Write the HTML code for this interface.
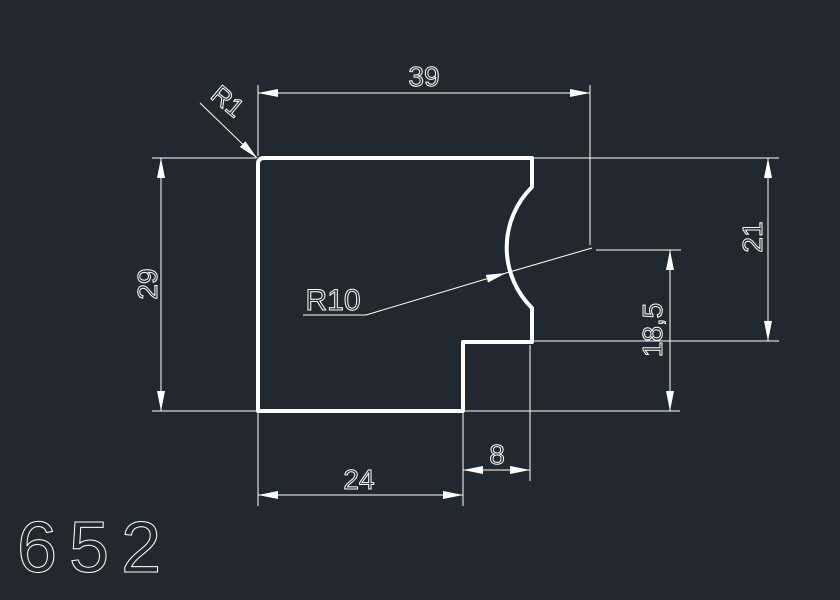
<!DOCTYPE html>
<html><head><meta charset="utf-8"><style>
html,body{margin:0;padding:0;background:#212830;}
svg{display:block}
text{font-family:"Liberation Sans",sans-serif;fill:none;stroke:#fff;stroke-width:1;font-weight:normal}
</style></head><body>
<svg width="840" height="600" viewBox="0 0 840 600" xmlns="http://www.w3.org/2000/svg">
<rect width="840" height="600" fill="#212830"/>
<defs>
<marker id="a" viewBox="0 0 20 8" refX="20" refY="4" markerWidth="20" markerHeight="8" markerUnits="userSpaceOnUse" orient="auto-start-reverse"><path d="M0,0 L20,4 L0,8 Z" fill="#fff"/></marker>
</defs>
<g stroke="#fff" stroke-width="1" fill="none">
<line x1="258" y1="85" x2="258" y2="156"/>
<line x1="590" y1="85" x2="590" y2="245"/>
<line x1="152" y1="158" x2="256" y2="158"/>
<line x1="534" y1="158" x2="779" y2="158"/>
<line x1="152" y1="411" x2="680" y2="411"/>
<line x1="534" y1="341" x2="779" y2="341"/>
<line x1="596" y1="250" x2="681" y2="250"/>
<line x1="258" y1="413" x2="258" y2="506"/>
<line x1="463" y1="413" x2="463" y2="506"/>
<line x1="530" y1="345" x2="530" y2="481"/>
<line x1="258" y1="93" x2="590" y2="93" marker-start="url(#a)" marker-end="url(#a)"/>
<line x1="161" y1="158" x2="161" y2="411" marker-start="url(#a)" marker-end="url(#a)"/>
<line x1="768" y1="158" x2="768" y2="341" marker-start="url(#a)" marker-end="url(#a)"/>
<line x1="670" y1="250" x2="670" y2="411" marker-start="url(#a)" marker-end="url(#a)"/>
<line x1="258" y1="495" x2="463" y2="495" marker-start="url(#a)" marker-end="url(#a)"/>
<line x1="463" y1="470" x2="530" y2="470" marker-start="url(#a)" marker-end="url(#a)"/>
<line x1="200" y1="103" x2="257" y2="158" marker-end="url(#a)"/>
<line x1="303" y1="315" x2="366" y2="315"/>
<line x1="366" y1="315" x2="506" y2="273" marker-end="url(#a)"/>
<line x1="506" y1="273" x2="592" y2="248"/>
</g>
<path d="M258,164 Q258,158 264,158 L532,158 L532,187 A85,85 0 0 0 532,308 L532,342 L463,342 L463,411 L258,411 Z" fill="none" stroke="#fff" stroke-width="4" stroke-linejoin="round"/>
<text x="424" y="86" font-size="28" text-anchor="middle">39</text>
<text x="359" y="489" font-size="28" text-anchor="middle">24</text>
<text x="497" y="464" font-size="28" text-anchor="middle">8</text>
<text x="333" y="310" font-size="30" text-anchor="middle">R10</text>
<text transform="translate(157,284) rotate(-90)" font-size="28" text-anchor="middle">29</text>
<text transform="translate(762,237) rotate(-90)" font-size="28" text-anchor="middle">21</text>
<text transform="translate(662,330) rotate(-90)" font-size="28" text-anchor="middle">18,5</text>
<text transform="translate(222,108) rotate(40)" font-size="26" text-anchor="middle">R1</text>
<text x="17" y="572" font-size="72" letter-spacing="12">652</text>
</svg>
</body></html>
